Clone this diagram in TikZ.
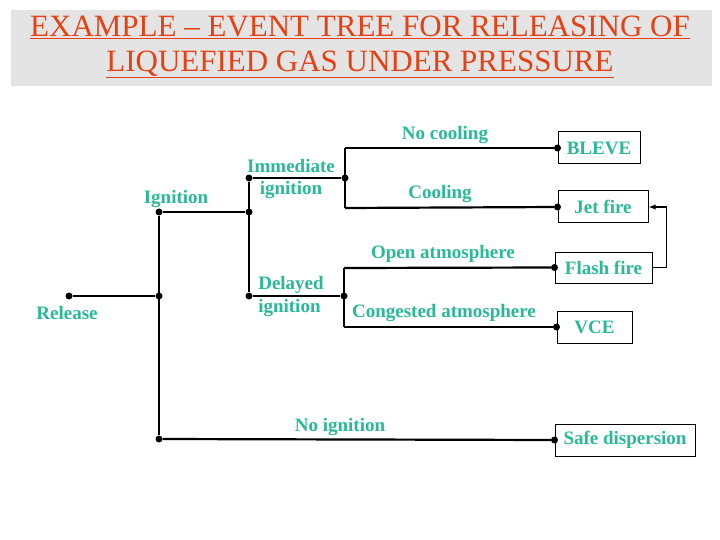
\documentclass[tikz,border=0pt]{standalone}
\usepackage{fontspec}
\setmainfont{Liberation Serif}
\newfontfamily\titlefont{Liberation Serif}
\usetikzlibrary{arrows.meta}
\definecolor{teal1}{RGB}{40,185,150}
\definecolor{titlered}{RGB}{230,65,20}
\definecolor{titlebg}{RGB}{228,228,228}
\begin{document}
\begin{tikzpicture}[x=1pt,y=-1pt,
  lbl/.style={text=teal1,font=\fontsize{19}{20}\selectfont\bfseries,inner sep=0pt,align=center},
  outbox/.style={draw,line width=1pt,text=teal1,font=\fontsize{19}{20}\selectfont\bfseries,inner sep=0pt},
  ln/.style={line width=2.2pt},
  dt/.style={circle,fill=black,inner sep=0pt,minimum size=7pt}]
\useasboundingbox (0,0) rectangle (720,540);
\fill[titlebg] (11,10) rectangle (712,86);
\node[text=titlered,font=\titlefont\fontsize{31}{35}\selectfont,align=center] (title) at (360,47)
  {\underline{EXAMPLE – EVENT TREE FOR RELEASING OF}\\\underline{LIQUEFIED GAS UNDER PRESSURE}};
% dots
\node[dt] (rel) at (69,296) {};
\node[dt] (b1) at (159,296) {};
\node[dt] (ig) at (159,212) {};
\node[dt] (noig) at (159,439) {};
\node[dt] (im) at (249,178) {};
\node[dt] (b2) at (249,212) {};
\node[dt] (del) at (249,296) {};
\node[dt] (b3) at (345,178) {};
\node[dt] (b4) at (344,296) {};
\coordinate (nc) at (345,148);
\coordinate (co) at (345,208);
\coordinate (oa) at (344,268);
\coordinate (ca) at (344,327);
% outcome boxes
\node[outbox,minimum width=82pt,minimum height=32pt] (bleve) at (599,148) {BLEVE};
\node[outbox,minimum width=90pt,minimum height=32pt] (jet) at (603,207) {Jet fire};
\node[outbox,minimum width=97pt,minimum height=31pt] (flash) at (603.5,267.5) {Flash fire};
\node[outbox,minimum width=75pt,minimum height=32pt] (vce) at (594.5,327) {VCE};
\node[outbox,minimum width=140pt,minimum height=32pt] (safe) at (625,440) {Safe dispersion};
\node[dt] (d1) at (bleve.west) {};
\node[dt] (d2) at (jet.west) {};
\node[dt] (d3) at (flash.west) {};
\node[dt] (d4) at (vce.west) {};
\node[dt] (d5) at (safe.west) {};
% lines
\draw[ln] (rel) -- (b1);
\draw[ln] (ig) -- (noig);
\draw[ln] (ig) -- (b2);
\draw[ln] (im) -- (del);
\draw[ln] (im) -- (b3);
\draw[ln] (nc) -- (co);
\draw[ln] (nc) -- (d1);
\draw[ln] (co) -- (d2);
\draw[ln] (del) -- (b4);
\draw[ln] (oa) -- (ca);
\draw[ln] (oa) -- (d3);
\draw[ln] (ca) -- (d4);
\draw[ln] (noig) -- (d5);
\draw[line width=1.2pt,-{Latex[length=7pt]}] (flash.east) -- ++(14,0) |- (jet.east);
% labels
\node[lbl] (l1) at (67,313) {Release};
\node[lbl] (l2) at (176,199) {Ignition};
\node[lbl,align=center,font=\fontsize{19}{22}\selectfont\bfseries] (l3) at (291,179) {Immediate\\ignition};
\node[lbl,align=left,font=\fontsize{19}{23}\selectfont\bfseries] (l4) at (291,297) {Delayed\\ignition};
\node[lbl] (l5) at (445,135) {No cooling};
\node[lbl] (l6) at (440,194) {Cooling};
\node[lbl] (l7) at (443,254) {Open atmosphere};
\node[lbl] (l8) at (444,313) {Congested atmosphere};
\node[lbl] (l9) at (340,427) {No ignition};
\end{tikzpicture}
\end{document}
